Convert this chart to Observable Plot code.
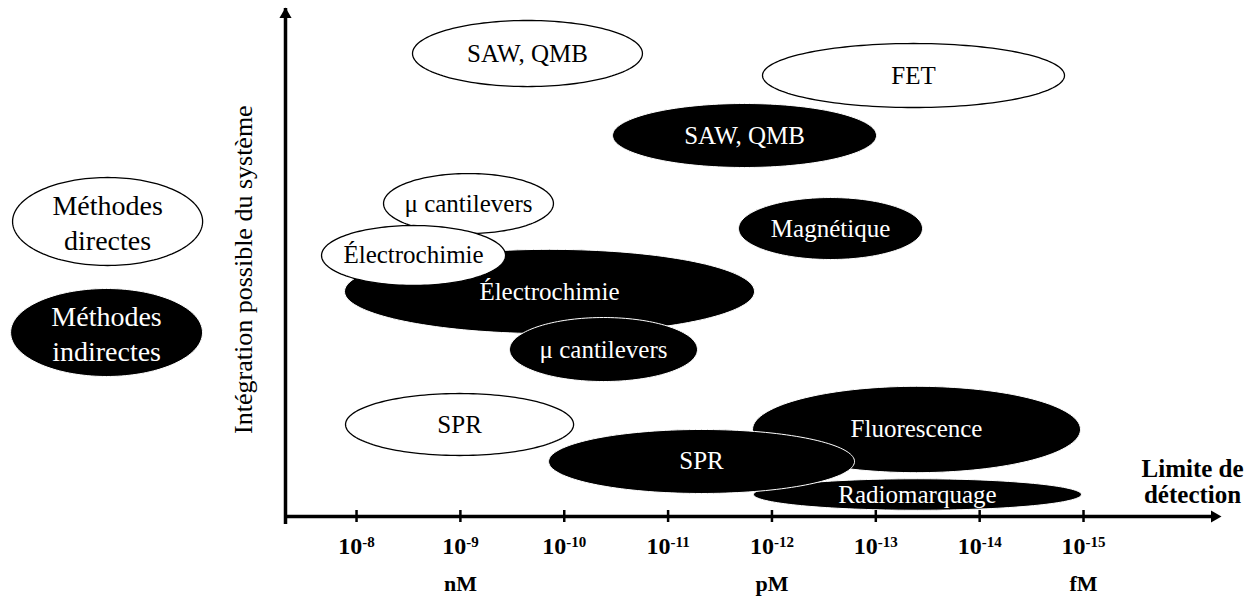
<!DOCTYPE html>
<html><head><meta charset="utf-8">
<script src="https://cdn.jsdelivr.net/npm/d3@7"></script>
<script src="https://cdn.jsdelivr.net/npm/@observablehq/plot@0.6"></script>
<style>
body{margin:0;background:#fff}
svg{display:block}
svg text{font-family:"Liberation Serif","Times New Roman",Tinos,serif !important}
</style>
</head><body><div id="chart"></div>
<script>
// ---- data (x = detection limit exponent, 10^-x M ; y = integration level 0..10) ----
const methods      = ["SAW, QMB","FET","SAW, QMB","Magnétique","Électrochimie","μ cantilevers","Électrochimie","μ cantilevers","SPR","Fluorescence","Radiomarquage","SPR"];
const kinds        = ["directe","directe","indirecte","indirecte","indirecte","directe","directe","indirecte","directe","indirecte","indirecte","indirecte"];
const centerExp    = [9.646, 13.363, 11.736, 12.564, 9.858, 9.078, 8.549, 10.378, 8.992, 13.392, 13.401, 11.322];
const halfWidthDec = [1.107, 1.454, 1.271, 0.886, 1.974, 0.818, 0.886, 0.905, 1.098, 1.579, 1.579, 1.473];
const centerInteg  = [9.114, 8.681, 7.500, 5.669, 4.429, 6.161, 5.138, 3.287, 1.811, 1.713, 0.433, 1.083];
const halfHeight   = [0.65, 0.63, 0.63, 0.61, 0.83, 0.59, 0.59, 0.63, 0.61, 0.85, 0.31, 0.63];

const tickExponents = [8, 9, 10, 11, 12, 13, 14, 15];
const tickLabels    = ["10^-8","10^-9","10^-10","10^-11","10^-12","10^-13","10^-14","10^-15"];
const unitLabels    = ["nM", "pM", "fM"];
const unitExponents = [9, 12, 15];

const legendLabels  = ["Méthodes\ndirectes", "Méthodes\nindirectes"];
const legendKinds   = ["directe", "indirecte"];
const legendX       = [5.603, 5.593];
const legendY       = [5.807, 3.622];
const legendRx      = [0.915, 0.924];
const legendRy      = [0.866, 0.866];

const yTitle = "Intégration possible du système";
const xTitle = "Limite de\ndétection";
const xMin = 7.316, xMax = 16.319, yMin = 0, yMax = 10;

// ---- helpers ----
const FONT = "Liberation Serif, Times New Roman, serif";
const fillOf = k => k === "directe" ? "white" : "black";
const inkOf  = k => k === "directe" ? "black" : "white";
function ellipsePts(cx, cy, rx, ry) {
  const n = 160, pts = [];
  for (let i = 0; i < n; i++) {
    const t = 2 * Math.PI * i / n;
    pts.push({x: cx + rx * Math.cos(t), y: cy + ry * Math.sin(t)});
  }
  return pts;
}
const ellipseMarks = (label, kind, cx, cy, rx, ry, size, lh) => [
  Plot.line(ellipsePts(cx, cy, rx, ry), {x: "x", y: "y", curve: "linear-closed",
    fill: fillOf(kind), stroke: inkOf(kind) === "white" ? "white" : "black",
    strokeWidth: kind === "directe" ? 1.3 : 1}),
  Plot.text([label], {x: () => cx, y: () => cy, text: d => d, fill: inkOf(kind),
    fontSize: size, lineHeight: lh})
];

const marks = [];
methods.forEach((m, i) => marks.push(...ellipseMarks(m, kinds[i], centerExp[i], centerInteg[i], halfWidthDec[i], halfHeight[i], 25, 1)));
legendLabels.forEach((m, i) => marks.push(...ellipseMarks(m, legendKinds[i], legendX[i], legendY[i], legendRx[i], legendRy[i], 28, 1.25)));

// axes
marks.push(
  Plot.ruleX([xMin], {y1: yMin, y2: yMax, insetTop: 8, strokeWidth: 3.5, stroke: "black"}),
  Plot.ruleY([yMin], {x1: xMin, x2: xMax, insetRight: 8, strokeWidth: 3.5, stroke: "black"}),
  Plot.dot([0], {x: () => xMin, y: () => yMax, symbol: "triangle", r: 4.5, fill: "black", stroke: "none", dy: 6}),
  Plot.dot([0], {x: () => xMax, y: () => yMin, symbol: "triangle", r: 4.5, rotate: 90, fill: "black", stroke: "none", dx: -6}),
  Plot.ruleX(tickExponents, {x: d => d, y1: () => yMin, y2: () => yMin, insetTop: -6, insetBottom: -6, strokeWidth: 2.5, stroke: "black"}),
  Plot.text(tickExponents, {x: d => d, y: () => yMin, text: (d, i) => tickLabels[i], dy: 30, fontSize: 24, fontWeight: "bold", fill: "black"}),
  Plot.text(unitLabels, {x: (d, i) => unitExponents[i], y: () => yMin, text: d => d, dy: 67, fontSize: 22, fontWeight: "bold", fill: "black"}),
  Plot.text([yTitle], {x: () => xMin, y: () => 4.86, text: d => d, dx: -42, rotate: -90, fontSize: 26, fill: "black"}),
  Plot.text([xTitle], {x: () => 16.05, y: () => 0.69, text: d => d, lineHeight: 1.05, fontSize: 25, fontWeight: "bold", fill: "black"})
);

const chart = Plot.plot({
  width: 1254, height: 596,
  marginTop: 0, marginRight: 0, marginBottom: 0, marginLeft: 0,
  x: {type: "linear", domain: [xMin, xMax], range: [285, 1220], axis: null},
  y: {type: "linear", domain: [yMin, yMax], range: [516, 8], axis: null},
  style: {fontFamily: FONT, background: "white", overflow: "visible"},
  marks
});
document.getElementById("chart").appendChild(chart);

// superscript exponents on tick labels
d3.select(chart).selectAll("text").each(function() {
  const nodes = this.tagName === "text" && this.children.length ? Array.from(this.children) : [this];
  nodes.forEach(node => {
    const s = node.textContent;
    if (!s.includes("^")) return;
    const parts = s.split("^");
    const t = d3.select(node);
    t.text(parts[0]);
    t.append("tspan").attr("dy", "-0.5em").attr("font-size", 15).text(parts[1]);
  });
});
</script>
</body></html>
